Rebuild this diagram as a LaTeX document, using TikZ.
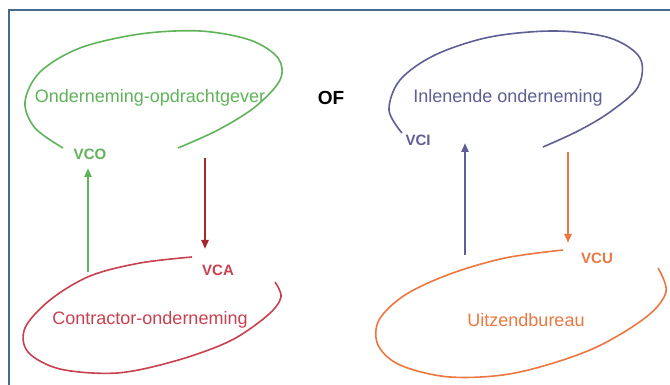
\documentclass[tikz,border=0pt]{standalone}
\usepackage{fontspec}
\setmainfont{Liberation Sans}
\usetikzlibrary{arrows.meta}
\definecolor{frame}{RGB}{70,105,140}
\definecolor{cgreen}{RGB}{95,180,90}
\definecolor{cred}{RGB}{200,65,80}
\definecolor{cdred}{RGB}{165,40,45}
\definecolor{cblue}{RGB}{95,95,150}
\definecolor{corange}{RGB}{235,120,65}
\tikzset{
  loopline/.style={line width=1.6pt},
  lbl/.style={inner sep=0pt, font=\fontsize{18}{20}\selectfont},
  tag/.style={inner sep=0pt, font=\bfseries\fontsize{15}{17}\selectfont},
  flow/.style={line width=2.2pt, -{Triangle[length=9pt,width=7pt]}},
}
\begin{document}
\begin{tikzpicture}[x=1pt,y=-1pt]
\useasboundingbox (0,0) rectangle (670,385);
\fill[white] (0,0) rectangle (670,385);
\draw[frame, line width=2pt] (8.5,400) -- (8.5,10.5) -- (680,10.5);

% labels
\node[lbl, text=cgreen] (og) at (150,98) {Onderneming-opdrachtgever};
\node[tag, text=cgreen] (vco) at (90,154) {VCO};
\node[lbl, text=cred] (co) at (150,320) {Contractor-onderneming};
\node[tag, text=cred] (vca) at (218,270) {VCA};
\node[inner sep=0pt, font=\bfseries\fontsize{19}{21}\selectfont] (of) at (331,98) {OF};
\node[lbl, text=cblue] (io) at (508,98) {Inlenende onderneming};
\node[tag, text=cblue] (vci) at (418,140) {VCI};
\node[lbl, text=corange] (ub) at (526,320) {Uitzendbureau};
\node[tag, text=corange] (vcu) at (597,258) {VCU};

% loops
\draw[cgreen, loopline] plot[smooth, tension=0.55] coordinates {(63,148) (35,128) (25,102) (40,72) (80,48) (140,34) (200,31) (250,40) (278,58) (280,80) (255,107) (218,130) (178,148)};
\draw[cred, loopline] plot[smooth, tension=0.55] coordinates {(192,257) (140,263) (90,276) (50,300) (25,328) (28,352) (60,369) (117,373) (175,361) (230,341) (268,315) (281,297) (275,282)};
\draw[cblue, loopline] plot[smooth, tension=0.55] coordinates {(402,133) (389,110) (400,80) (435,55) (490,37) (555,31) (610,38) (640,58) (638,87) (610,112) (578,131) (543,147)};
\draw[corange, loopline] plot[smooth, tension=0.55] coordinates {(563,250) (505,258) (450,274) (405,295) (379,320) (378,345) (400,365) (450,377) (515,373) (590,350) (645,318) (666,292) (658,268)};

% arrows
\coordinate (g0) at (88,272);
\coordinate (g1) at (88,168);
\coordinate (r0) at (205,158);
\coordinate (r1) at (205,249);
\coordinate (b0) at (465,255);
\coordinate (b1) at (465,143);
\coordinate (o0) at (568,152);
\coordinate (o1) at (568,243);
\draw[flow, cgreen] (g0) -- (g1);
\draw[flow, cdred] (r0) -- (r1);
\draw[flow, cblue] (b0) -- (b1);
\draw[flow, corange] (o0) -- (o1);
\end{tikzpicture}
\end{document}
